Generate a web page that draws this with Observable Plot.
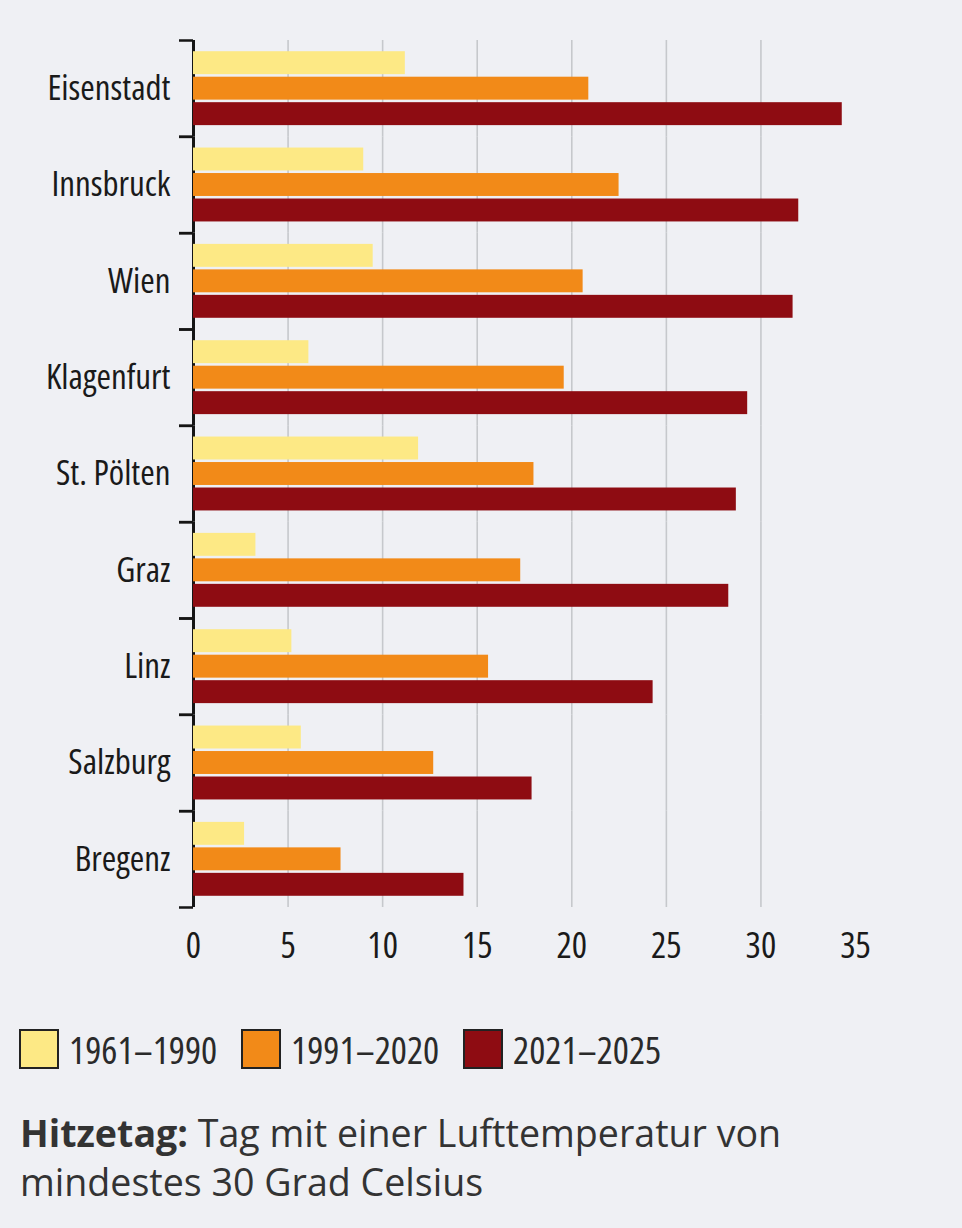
<!DOCTYPE html>
<html lang="de">
<head>
<meta charset="utf-8">
<script src="https://cdn.jsdelivr.net/npm/d3@7"></script>
<script src="https://cdn.jsdelivr.net/npm/@observablehq/plot@0.6"></script>
<style>
  html, body { margin: 0; padding: 0; background: #eff0f4; }
  #chart svg { display: block; }
  #chart svg text { font-stretch: 78%; }
  .legend {
    display: flex; align-items: center; height: 40px;
    margin: 39px 0 0 19px;
    font-family: "Open Sans", sans-serif; font-stretch: 80%;
    font-size: 38px; color: #2a2a2a;
  }
  .legend .item { display: flex; align-items: center; width: 222px; white-space: nowrap; }
  .legend .swatch { width: 36px; height: 36px; border: 2px solid #222; margin-right: 10px; flex: none; }
  .note {
    margin: 39px 0 0 20px;
    font-family: "Open Sans", "Noto Sans", sans-serif;
    font-size: 37.6px; line-height: 49px; color: #333;
  }
</style>
</head>
<body>
<div id="chart"></div>
<div class="legend" id="legend"></div>
<div class="note"><b>Hitzetag:</b> Tag mit einer Lufttemperatur von<br>mindestes 30 Grad Celsius</div>
<script>
// Hitzetage (Tage mit mindestens 30 °C) pro Jahr in den Landeshauptstädten
const cities = ["Eisenstadt", "Innsbruck", "Wien", "Klagenfurt", "St. Pölten", "Graz", "Linz", "Salzburg", "Bregenz"];
const periods = ["1961–1990", "1991–2020", "2021–2025"];
const days1961_1990 = [11.2, 9.0, 9.5, 6.1, 11.9, 3.3, 5.2, 5.7, 2.7];
const days1991_2020 = [20.9, 22.5, 20.6, 19.6, 18.0, 17.3, 15.6, 12.7, 7.8];
const days2021_2025 = [34.3, 32.0, 31.7, 29.3, 28.7, 28.3, 24.3, 17.9, 14.3];
const periodColors = ["#fde985", "#f28a18", "#8e0c12"];
const xTicks = [0, 5, 10, 15, 20, 25, 30, 35];
const gridTicks = [5, 10, 15, 20, 25, 30];

const series = [days1961_1990, days1991_2020, days2021_2025];
const rows = cities.flatMap((city, i) =>
  periods.map((period, j) => ({city, period, value: series[j][i]}))
);

const width = 962, height = 990;
const marginTop = 40, marginBottom = 83;
const band = (height - marginTop - marginBottom) / cities.length;

const chart = Plot.plot({
  width, height,
  marginTop, marginBottom, marginLeft: 193, marginRight: 107,
  style: {background: "transparent", fontFamily: '"Open Sans", sans-serif', color: "#1a1a1a", overflow: "visible"},
  x: {domain: [0, 35], axis: null},
  y: {domain: periods, paddingInner: 0.1, paddingOuter: 0.44, round: false, axis: null},
  fy: {domain: cities, padding: 0, round: false, axis: null},
  color: {domain: periods, range: periodColors},
  marks: [
    Plot.gridX(gridTicks, {stroke: "#c6c8cc", strokeOpacity: 1, strokeWidth: 1.6}),
    Plot.ruleX([0], {stroke: "#151515", strokeWidth: 3}),
    Plot.barX(rows, {fy: "city", y: "period", x: "value", fill: "period"}),
    // boundary ticks between the city groups
    Plot.axisFy({anchor: "left", tickSize: 14, tickFormat: () => "", dy: -band / 2, stroke: "#151515", strokeWidth: 2.5, label: null}),
    Plot.axisFy({anchor: "left", tickSize: 14, tickFormat: () => "", dy: band / 2, stroke: "#151515", strokeWidth: 2.5, label: null}),
    Plot.axisFy({anchor: "left", tickSize: 0, tickPadding: 23, fontSize: 35, label: null}),
    Plot.axisX(xTicks, {tickSize: 0, tickPadding: 25, fontSize: 36, label: null})
  ]
});
document.getElementById("chart").append(chart);

const legend = d3.select("#legend");
periods.forEach((p, i) => {
  const item = legend.append("div").attr("class", "item");
  item.append("div").attr("class", "swatch").style("background", periodColors[i]);
  item.append("span").text(p);
});
</script>
</body>
</html>
